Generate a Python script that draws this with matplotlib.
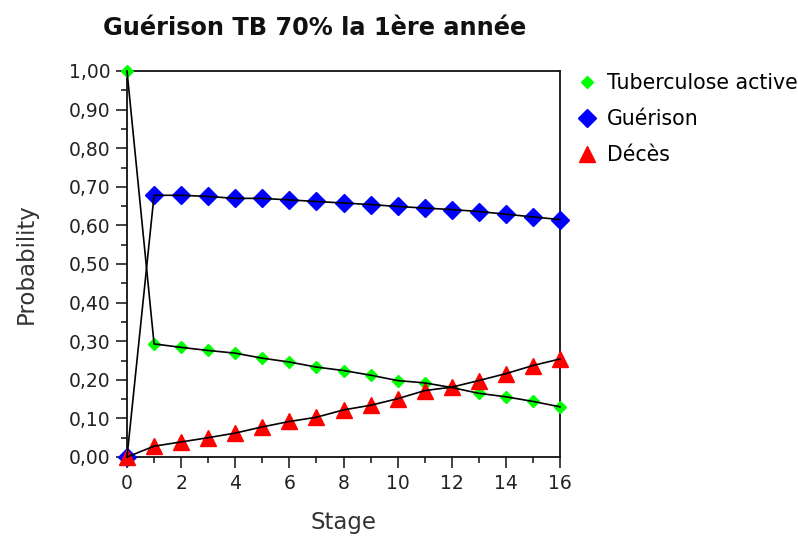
import numpy as np
import matplotlib.pyplot as plt
from matplotlib.ticker import MultipleLocator, FuncFormatter

plt.rcParams['font.family'] = ['DejaVu Sans']

stages = np.arange(0, 17)
tb_active = [1.00, 0.293, 0.284, 0.276, 0.269, 0.256, 0.246, 0.233, 0.224,
             0.212, 0.198, 0.192, 0.180, 0.165, 0.156, 0.144, 0.130]
guerison = [0.00, 0.678, 0.678, 0.675, 0.670, 0.670, 0.666, 0.662, 0.658,
            0.654, 0.649, 0.645, 0.641, 0.636, 0.629, 0.622, 0.615]
deces = [0.00, 0.028, 0.039, 0.050, 0.062, 0.078, 0.092, 0.103, 0.122,
         0.134, 0.151, 0.172, 0.181, 0.198, 0.216, 0.237, 0.254]

fig = plt.figure(figsize=(7.98, 5.40), dpi=100)
ax = fig.add_axes([127 / 798, 1 - 457 / 540, 433 / 798, 386 / 540])

ax.plot(stages, tb_active, linestyle='none', marker='D', markersize=6,
        color='#00ff00', label='Tuberculose active', clip_on=False, zorder=3)
ax.plot(stages, guerison, linestyle='none', marker='D', markersize=9,
        color='#0000ff', label='Guérison', clip_on=False, zorder=3)
ax.plot(stages, deces, linestyle='none', marker='^', markersize=11,
        color='#ff0000', label='Décès', clip_on=False, zorder=3)
for series in (tb_active, guerison, deces):
    ax.plot(stages, series, color='black', linewidth=1.2, zorder=4, clip_on=False)

ax.set_xlim(0, 16)
ax.set_ylim(0, 1)
ax.xaxis.set_major_locator(MultipleLocator(2))
ax.xaxis.set_minor_locator(MultipleLocator(1))
ax.yaxis.set_major_locator(MultipleLocator(0.1))
ax.yaxis.set_minor_locator(MultipleLocator(0.05))
ax.yaxis.set_major_formatter(FuncFormatter(lambda v, p: f'{v:.2f}'.replace('.', ',')))
ax.tick_params(which='major', length=8, width=1.2, labelsize=13.5, colors='#222222', pad=4)
ax.tick_params(which='minor', length=4, width=1.2, colors='#222222')
for s in ax.spines.values():
    s.set_linewidth(1.3)
    s.set_color('#111111')

ax.set_ylabel('Probability', fontsize=16.5, color='#333333', labelpad=22)
ax.set_xlabel('Stage', fontsize=16.5, color='#333333', labelpad=13)
fig.text(315 / 798, 1 - 35 / 540, 'Guérison TB 70% la 1ère année', ha='center',
         va='baseline', fontsize=17.3, fontweight='bold', color='#111111')

ax.legend(loc='upper left', bbox_to_anchor=(1.02, 1.015), frameon=False,
          fontsize=14.8, labelspacing=0.78, handlelength=1.0, handletextpad=0.45,
          borderaxespad=0)

plt.savefig('out.png', dpi=100)
